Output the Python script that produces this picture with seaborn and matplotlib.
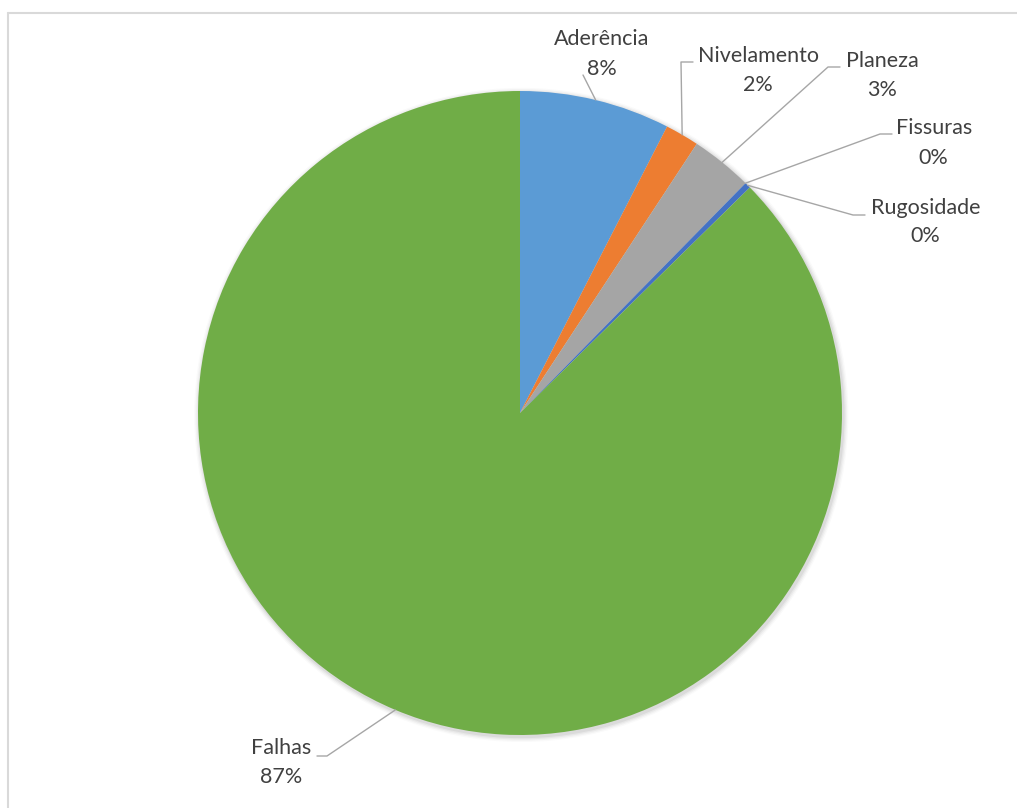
import numpy as np
import matplotlib
matplotlib.use("Agg")
import matplotlib.pyplot as plt
import seaborn as sns
from matplotlib.patches import Circle
from matplotlib.lines import Line2D

# ---- data ----
categories = ["Aderência", "Nivelamento", "Planeza", "Fissuras", "Rugosidade", "Falhas"]
values = [7.55, 1.7, 3.1, 0.0, 0.3, 87.35]
colors = ["#5B9BD5", "#ED7D31", "#A5A5A5", "#FFC000", "#4472C4", "#70AD47"]

# ---- layout (pixel positions of labels in the 1017x808 canvas) ----
W, H = 1017, 808
CX, CY, R = 520, 413, 322
name_xy = [(602, 39), (758, 56), (882, 61), (934, 128), (926, 208), (281, 748)]
pct_xy = [(602, 69), (758, 85), (882, 90), (933, 158), (925, 236), (281, 777)]
leader_pts = [
    [(583, 75)],
    [(681, 62), (693, 62)],
    [(828, 67), (840, 67)],
    [(880, 134), (892, 134)],
    [(853, 215), (865, 215)],
    [(327, 756), (317, 756)],
]

sns.set_theme(style="white")
plt.rcParams["font.family"] = ["Lato", "DejaVu Sans"]

def d(px, py):
    return ((px - CX) / R, (CY - py) / R)

fig = plt.figure(figsize=(W / 100, H / 100), dpi=100, facecolor="white")
ax = fig.add_axes([0, 0, 1, 1])

# soft shadow
for i, a in enumerate([0.05, 0.04, 0.03, 0.02]):
    ax.add_patch(Circle((0.004, -0.006), 1.0 + 0.004 * (i + 1), color="#000000",
                        alpha=a, lw=0, zorder=0))

ax.pie(values, colors=colors, startangle=90, counterclock=False, radius=1,
       center=(0, 0), wedgeprops=dict(linewidth=0), normalize=True)

x0, y1 = d(0, 0)
x1, y0 = d(W, H)
ax.set_xlim(x0, x1)
ax.set_ylim(y0, y1)
ax.set_aspect("equal", adjustable="datalim")
ax.axis("off")

total = sum(values)
cum = 0.0
txt_color = "#404040"
for i, (cat, v) in enumerate(zip(categories, values)):
    mid = cum + v / 2.0
    cum += v
    ang = np.deg2rad(90 - 360 * mid / total)
    start = (np.cos(ang), np.sin(ang))
    pts = [start] + [d(*p) for p in leader_pts[i]]
    xs, ys = zip(*pts)
    ax.add_line(Line2D(xs, ys, color="#A6A6A6", lw=1.0, zorder=3))
    nx, ny = d(*name_xy[i])
    px, py = d(*pct_xy[i])
    ax.text(nx, ny, cat, ha="center", va="center", fontsize=15.5, color=txt_color)
    ax.text(px, py, f"{100 * v / total:.0f}%", ha="center", va="center",
            fontsize=15.5, color=txt_color)

# chart-area border (top and left visible)
fig.add_artist(Line2D([7.5 / W, 1.0], [1 - 12.5 / H, 1 - 12.5 / H],
                      transform=fig.transFigure, color="#D9D9D9", lw=1.5))
fig.add_artist(Line2D([7.5 / W, 7.5 / W], [0, 1 - 12.5 / H],
                      transform=fig.transFigure, color="#D9D9D9", lw=1.5))

fig.savefig("out.png", dpi=100, facecolor="white")
